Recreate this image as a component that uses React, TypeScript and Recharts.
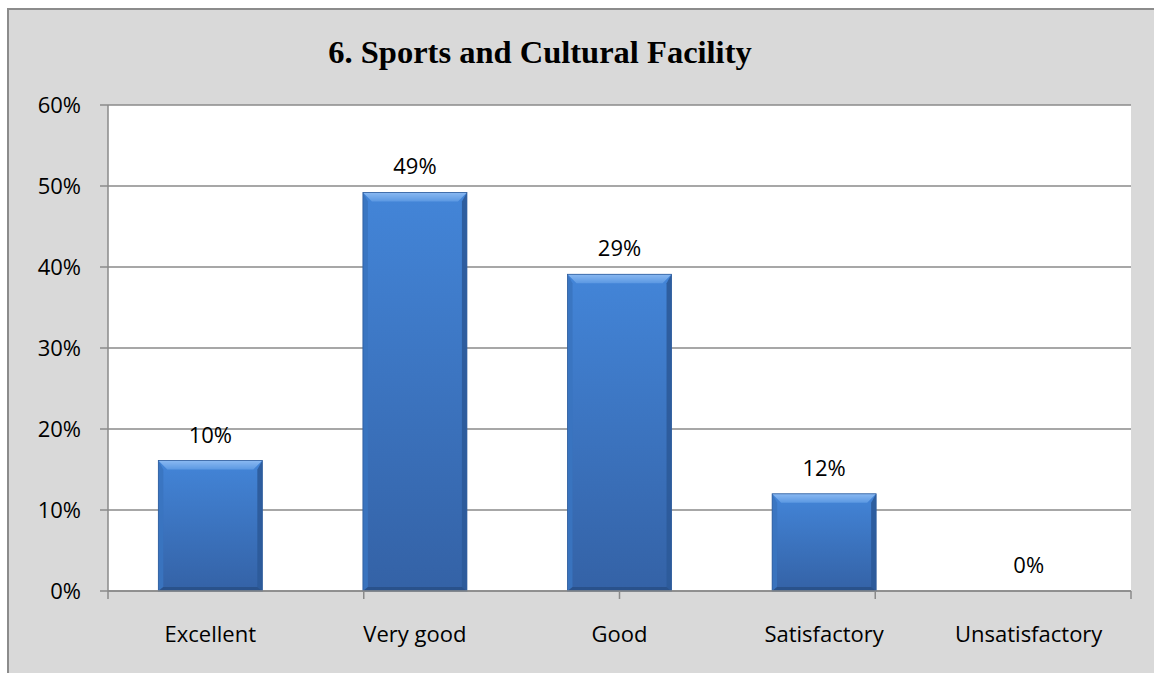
import React from 'react';
import { BarChart, Bar, XAxis, YAxis, CartesianGrid, LabelList } from 'recharts';

const categories = ['Excellent', 'Very good', 'Good', 'Satisfactory', 'Unsatisfactory'];
const barValues = [16.1, 49.2, 39.1, 12.0, 0];
const labelTexts = ['10%', '49%', '29%', '12%', '0%'];
const yTicks = [0, 10, 20, 30, 40, 50, 60];
const edgeTicks = [0, 1, 2, 3, 4, 5];

const data = categories.map((c, i) => ({ name: c, value: barValues[i], label: labelTexts[i] }));

const FONT = '"Open Sans", "Liberation Sans", sans-serif';
const GRID = '#8a8a8a';

const BevelBar = (props: any) => {
  const { x, y, width, height } = props;
  if (!height || height <= 0) return null;
  const b = Math.min(9, height / 2);
  const s = Math.min(5, width / 4);
  const bb = Math.min(4, height / 4);
  return (
    <g>
      <rect x={x} y={y} width={width} height={height} fill="url(#barBody)" />
      <polygon
        points={`${x},${y + height} ${x + s},${y + height - bb} ${x + s},${y + b} ${x},${y}`}
        fill="#3a74c0"
        opacity={0.9}
      />
      <polygon
        points={`${x + width},${y + height} ${x + width - s},${y + height - bb} ${x + width - s},${y + b} ${x + width},${y}`}
        fill="#2c5a99"
        opacity={0.9}
      />
      <polygon
        points={`${x},${y + height} ${x + width},${y + height} ${x + width - s},${y + height - bb} ${x + s},${y + height - bb}`}
        fill="#284f86"
        opacity={0.85}
      />
      <polygon
        points={`${x},${y} ${x + width},${y} ${x + width - b},${y + b} ${x + b},${y + b}`}
        fill="url(#barTop)"
      />
      <rect x={x} y={y} width={width} height={height} fill="none" stroke="#2f5d9c" strokeWidth={0.8} />
    </g>
  );
};

export default function App() {
  return (
    <div
      style={{
        position: 'fixed',
        left: 7,
        top: 8,
        width: 1147,
        height: 665,
        background: '#d9d9d9',
        boxShadow: 'inset 2px 2px 0 #8c8c8c',
      }}
    >
      <div
        style={{
          position: 'absolute',
          left: 0,
          width: 1066,
          top: 28,
          textAlign: 'center',
          fontFamily: '"Liberation Serif", "Times New Roman", serif',
          fontWeight: 'bold',
          fontSize: 32.5,
          lineHeight: '32px',
          color: '#000',
        }}
      >
        6. Sports and Cultural Facility
      </div>
      <div style={{ position: 'absolute', left: 0, top: 0 }}>
        <BarChart
          width={1147}
          height={665}
          data={data}
          margin={{ top: 97, right: 23, bottom: 31, left: 42 }}
          barCategoryGap="24.6%"
        >
          <defs>
            <linearGradient id="barBody" x1="0" y1="0" x2="0" y2="1">
              <stop offset="0%" stopColor="#4385d8" />
              <stop offset="100%" stopColor="#3462a6" />
            </linearGradient>
            <linearGradient id="barTop" x1="0" y1="0" x2="0" y2="1">
              <stop offset="0%" stopColor="#8ab9f2" />
              <stop offset="100%" stopColor="#5b98e2" />
            </linearGradient>
          </defs>
          <CartesianGrid
            xAxisId="b_label"
            vertical={false}
            stroke={GRID}
            strokeWidth={1.5}
            fill="#ffffff"
            fillOpacity={1}
          />
          <XAxis
            xAxisId="a_edge"
            type="number"
            domain={[0, 5]}
            ticks={edgeTicks}
            allowDataOverflow
            height={1}
            axisLine={{ stroke: GRID, strokeWidth: 1.5 }}
            tickLine={{ stroke: GRID, strokeWidth: 1.5 }}
            tickSize={8}
            tickFormatter={() => ''}
          />
          <XAxis
            xAxisId="b_label"
            dataKey="name"
            height={50}
            axisLine={false}
            tickLine={false}
            tickSize={8}
            tickMargin={26}
            tick={{ fill: '#000', fontSize: 22, fontFamily: FONT }}
            interval={0}
          />
          <YAxis
            domain={[0, 60]}
            ticks={yTicks}
            width={59}
            tickFormatter={(v: number) => `${v}%`}
            axisLine={{ stroke: GRID, strokeWidth: 1.5 }}
            tickLine={{ stroke: GRID, strokeWidth: 1.5 }}
            tickSize={8}
            tickMargin={19}
            tick={{ fill: '#000', fontSize: 22, fontFamily: FONT }}
          />
          <Bar xAxisId="b_label" dataKey="value" shape={<BevelBar />} isAnimationActive={false}>
            <LabelList
              dataKey="label"
              position="top"
              offset={18}
              fill="#000"
              fontSize={22}
              fontFamily={FONT}
            />
          </Bar>
        </BarChart>
      </div>
    </div>
  );
}
